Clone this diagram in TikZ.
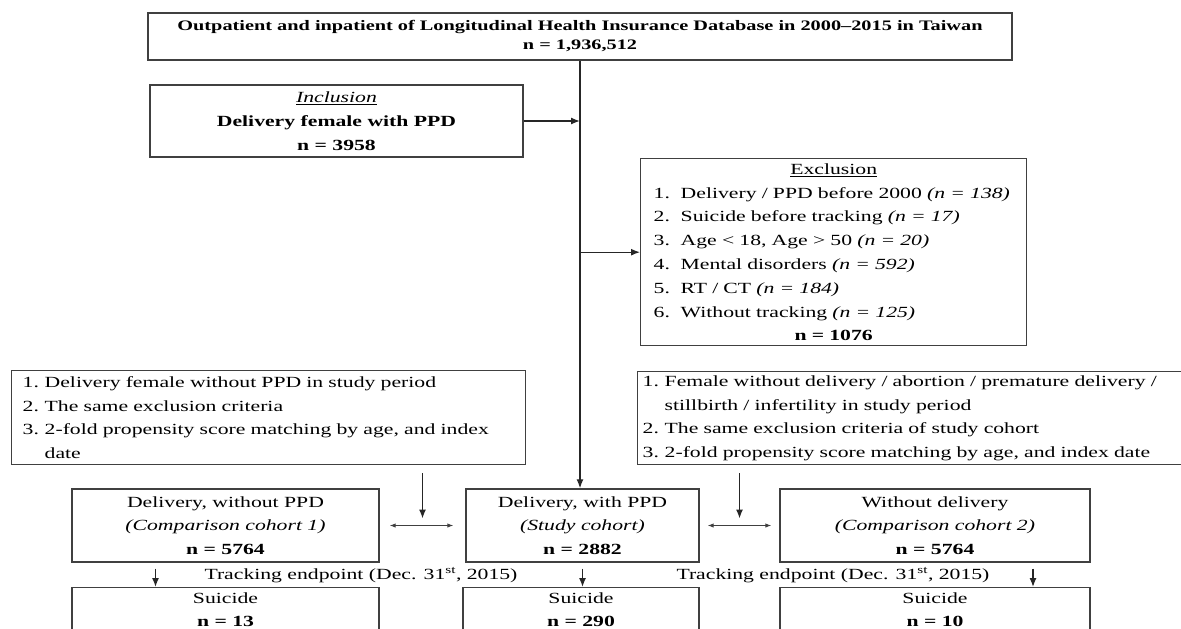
\documentclass[tikz,border=0pt]{standalone}
\usepackage{fontspec}
\setmainfont{Liberation Serif}[FakeStretch=1.4]
\usetikzlibrary{arrows.meta,calc}

\begin{document}
\begin{tikzpicture}[x=1pt,y=-1pt,
	box/.style={draw=black!75, line width=1.4pt, inner sep=0pt, font=\fontsize{15.5}{23.8}\selectfont},
	flow/.style={draw=black!85, line width=1.3pt, -{Latex[length=9pt,width=7pt]}},
	pair/.style={draw=black!75, line width=1pt, {Latex[length=6pt,width=4.5pt]}-{Latex[length=6pt,width=4.5pt]}}]
					% Fix the picture size and cut off what runs past it
					\useasboundingbox (0,0) rectangle (1181,629);
					\clip (0,0) rectangle (1181,629);
					
					% Database at the top
					\node[box, minimum width=864, minimum height=47, align=center, font=\fontsize{14.5}{19}\selectfont\bfseries] (db) at (580,36.5)
					{Outpatient and inpatient of Longitudinal Health Insurance Database in 2000–2015 in Taiwan\\n = 1,936,512};
					
					% Inclusion and exclusion
					\node[box, minimum width=373, minimum height=72, align=center] (incl) at (336.5,121)
					{\underline{\textit{Inclusion}}\\\textbf{Delivery female with PPD}\\\textbf{n = 3958}};
					\node[box, anchor=north west, text width=360, inner xsep=13, minimum height=187, align=left] (excl) at (640,158)
					{\makebox[\linewidth]{\underline{Exclusion}}\\
					 \makebox[27pt][l]{1.}Delivery / PPD before 2000 \textit{(n = 138)}\\
					 \makebox[27pt][l]{2.}Suicide before tracking \textit{(n = 17)}\\
					 \makebox[27pt][l]{3.}Age < 18, Age > 50 \textit{(n = 20)}\\
					 \makebox[27pt][l]{4.}Mental disorders \textit{(n = 592)}\\
					 \makebox[27pt][l]{5.}RT / CT \textit{(n = 184)}\\
					 \makebox[27pt][l]{6.}Without tracking \textit{(n = 125)}\\
					 \makebox[\linewidth]{\textbf{n = 1076}}};
					
					% Matching criteria for the two comparison cohorts
					\node[box, anchor=north west, text width=492, inner xsep=11, minimum height=94, align=left] (crit1) at (11,370)
					{\makebox[22pt][l]{1.}Delivery female without PPD in study period\\
					 \makebox[22pt][l]{2.}The same exclusion criteria\\
					 \makebox[22pt][l]{3.}2-fold propensity score matching by age, and index\\
					 \hspace*{22pt}date};
					\node[box, anchor=north west, text width=600, inner xsep=5, minimum height=93, align=left] (crit2) at (637,371)
					{\makebox[22pt][l]{1.}Female without delivery / abortion / premature delivery /\\
					 \hspace*{22pt}stillbirth / infertility in study period\\
					 \makebox[22pt][l]{2.}The same exclusion criteria of study cohort\\
					 \makebox[22pt][l]{3.}2-fold propensity score matching by age, and index date};
					
					% Cohorts
					\node[box, minimum width=307, minimum height=73, align=center] (coh1) at (225.5,525.5)
					{Delivery, without PPD\\\textit{(Comparison cohort 1)}\\\textbf{n = 5764}};
					\node[box, minimum width=233, minimum height=73, align=center] (study) at (582.5,525.5)
					{Delivery, with PPD\\\textit{(Study cohort)}\\\textbf{n = 2882}};
					\node[box, minimum width=310, minimum height=73, align=center] (coh2) at (935,525.5)
					{Without delivery\\\textit{(Comparison cohort 2)}\\\textbf{n = 5764}};
					
					% Suicide outcomes
					\node[box, anchor=north, minimum width=307, minimum height=44, align=center, font=\fontsize{15.5}{23}\selectfont] (sui1) at (225.5,587) {Suicide\\\textbf{n = 13}};
					\node[box, anchor=north, minimum width=236, minimum height=44, align=center, font=\fontsize{15.5}{23}\selectfont] (sui2) at (581,587) {Suicide\\\textbf{n = 290}};
					\node[box, anchor=north, minimum width=310, minimum height=44, align=center, font=\fontsize{15.5}{23}\selectfont] (sui3) at (935,587) {Suicide\\\textbf{n = 10}};
					
					% Tracking endpoint labels
					\node[font=\fontsize{15.5}{23.8}\selectfont] (track1) at (361,575) {Tracking endpoint (Dec. 31\textsuperscript{st}, 2015)};
					\node[font=\fontsize{15.5}{23.8}\selectfont] (track2) at (833,575) {Tracking endpoint (Dec. 31\textsuperscript{st}, 2015)};
					
					% Main spine with inclusion and exclusion arrows
					\draw[flow] (db.south) -- (db.south |- study.north);
					\draw[flow] (incl.east) -- (incl.east -| db.south);
					\draw[flow] (excl.west -| db.south) -- (excl.west);
					
					% Matching arrows between the cohorts
					\coordinate (gap1) at ($(coh1.east)!0.5!(study.west)$);
					\coordinate (gap2) at ($(study.east)!0.5!(coh2.west)$);
					\draw[flow] ($(gap1 |- crit1.south)+(0,8)$) -- ($(gap1)+(0,-7)$);
					\draw[flow] ($(gap2 |- crit2.south)+(0,8)$) -- ($(gap2)+(0,-7)$);
					\draw[pair] ($(coh1.east)+(10,0)$) -- ($(study.west)+(-12,0)$);
					\draw[pair] ($(study.east)+(8,0)$) -- ($(coh2.west)+(-8,0)$);
					
					% Follow-up arrows
					\draw[flow] ($(coh1.south)+(-70,6)$) -- ($(sui1.north)+(-70,0)$);
					\draw[flow] ($(study.south)+(0,6)$) -- (study.south |- sui2.north);
					\draw[flow] ($(coh2.south)+(98,6)$) -- ($(sui3.north)+(98,0)$);
\end{tikzpicture}
\end{document}
